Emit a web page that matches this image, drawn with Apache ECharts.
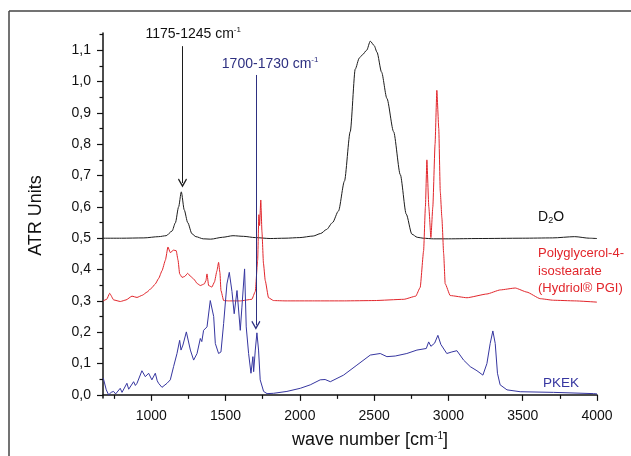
<!DOCTYPE html>
<html>
<head>
<meta charset="utf-8">
<script src="https://cdn.jsdelivr.net/npm/echarts@6/dist/echarts.min.js"></script>
<style>
  html, body { margin: 0; padding: 0; background: #fff; }
  #main { width: 631px; height: 456px; }
</style>
</head>
<body>
<div id="main"></div>
<script>
// D2O spectrum (black)
var d2oWn  = [677, 800, 950, 1050, 1100, 1140, 1162, 1184, 1202, 1222, 1245, 1274, 1300, 1350, 1400, 1480, 1550, 1620, 1700, 1800, 1900, 2000, 2090, 2140, 2180, 2220, 2260, 2300, 2339, 2373, 2400, 2420, 2450, 2474, 2500, 2519, 2550, 2586, 2631, 2676, 2716, 2754, 2790, 2830, 2900, 3000, 3200, 3500, 3700, 3850, 3950, 4000];
var d2oAbs = [0.5, 0.5, 0.501, 0.505, 0.508, 0.523, 0.549, 0.6, 0.648, 0.59, 0.55, 0.514, 0.505, 0.498, 0.497, 0.503, 0.508, 0.506, 0.502, 0.499, 0.5, 0.502, 0.507, 0.515, 0.528, 0.55, 0.587, 0.682, 0.84, 1.04, 1.075, 1.085, 1.1, 1.129, 1.115, 1.094, 1.03, 0.946, 0.84, 0.703, 0.577, 0.513, 0.503, 0.5, 0.498, 0.498, 0.499, 0.5, 0.501, 0.505, 0.5, 0.499];

// Polyglycerol-4-isostearate (red)
var pgiWn  = [677, 700, 720, 747, 792, 830, 870, 904, 940, 971, 1000, 1027, 1050, 1072, 1095, 1112, 1128, 1150, 1168, 1180, 1191, 1207, 1225, 1245, 1265, 1285, 1310, 1330, 1357, 1368, 1375, 1386, 1408, 1425, 1442, 1453, 1462, 1469, 1487, 1520, 1600, 1677, 1700, 1716, 1724, 1729, 1737, 1745, 1755, 1767, 1789, 1823, 1900, 2100, 2300, 2500, 2700, 2780, 2810, 2833, 2845, 2855, 2868, 2882, 2895, 2910, 2922, 2935, 2945, 2956, 2968, 2978, 3012, 3125, 3259, 3349, 3450, 3528, 3618, 3707, 3850, 3999];
var pgiAbs = [0.3, 0.305, 0.324, 0.303, 0.298, 0.303, 0.315, 0.311, 0.318, 0.328, 0.34, 0.354, 0.372, 0.396, 0.43, 0.472, 0.454, 0.462, 0.46, 0.43, 0.386, 0.375, 0.378, 0.388, 0.378, 0.37, 0.355, 0.349, 0.354, 0.365, 0.386, 0.349, 0.344, 0.36, 0.396, 0.423, 0.39, 0.333, 0.301, 0.3, 0.3, 0.305, 0.33, 0.43, 0.575, 0.54, 0.622, 0.52, 0.42, 0.365, 0.31, 0.301, 0.3, 0.3, 0.3, 0.301, 0.305, 0.315, 0.343, 0.46, 0.6, 0.75, 0.6, 0.502, 0.6, 0.8, 0.972, 0.85, 0.65, 0.565, 0.45, 0.355, 0.317, 0.31, 0.322, 0.335, 0.341, 0.328, 0.307, 0.302, 0.3, 0.296];

// PKEK (blue)
var pkekWn  = [677, 690, 697, 713, 730, 746, 760, 769, 791, 803, 814, 836, 848, 859, 881, 893, 904, 937, 960, 982, 1004, 1027, 1040, 1049, 1072, 1106, 1128, 1150, 1173, 1191, 1200, 1213, 1236, 1263, 1285, 1308, 1330, 1340, 1352, 1375, 1397, 1408, 1420, 1431, 1453, 1469, 1487, 1509, 1525, 1543, 1558, 1577, 1584, 1599, 1610, 1628, 1639, 1655, 1671, 1684, 1689, 1700, 1711, 1722, 1733, 1756, 1779, 1823, 1913, 2003, 2070, 2137, 2170, 2205, 2294, 2384, 2474, 2541, 2586, 2642, 2720, 2788, 2851, 2867, 2882, 2907, 2929, 2949, 2989, 3023, 3057, 3102, 3147, 3192, 3232, 3259, 3281, 3299, 3315, 3330, 3348, 3394, 3483, 3707, 3976, 4000];
var pkekAbs = [0.053, 0.05, 0.016, 0.0, 0.008, 0.011, 0.003, 0.0, 0.021, 0.008, 0.011, 0.037, 0.018, 0.021, 0.042, 0.03, 0.037, 0.077, 0.058, 0.069, 0.048, 0.069, 0.045, 0.037, 0.024, 0.037, 0.048, 0.09, 0.132, 0.174, 0.143, 0.159, 0.201, 0.143, 0.111, 0.132, 0.18, 0.17, 0.206, 0.217, 0.301, 0.306, 0.25, 0.164, 0.132, 0.137, 0.228, 0.354, 0.391, 0.33, 0.259, 0.333, 0.338, 0.206, 0.28, 0.402, 0.217, 0.132, 0.069, 0.122, 0.074, 0.143, 0.198, 0.143, 0.048, 0.011, 0.004, 0.005, 0.011, 0.021, 0.032, 0.048, 0.049, 0.042, 0.063, 0.095, 0.127, 0.132, 0.122, 0.124, 0.132, 0.143, 0.148, 0.169, 0.155, 0.165, 0.19, 0.161, 0.132, 0.137, 0.141, 0.111, 0.09, 0.077, 0.063, 0.1, 0.164, 0.204, 0.164, 0.069, 0.032, 0.016, 0.01, 0.008, 0.004, 0.003];

// axis ticks
var xMajor = [1000, 1500, 2000, 2500, 3000, 3500, 4000];
var xMinor = [750, 1250, 1750, 2250, 2750, 3250, 3750];
var yMajor = [0, 0.1, 0.2, 0.3, 0.4, 0.5, 0.6, 0.7, 0.8, 0.9, 1.0, 1.1];
var yMinor = [0.05, 0.15, 0.25, 0.35, 0.45, 0.55, 0.65, 0.75, 0.85, 0.95, 1.05, 1.15];

// annotation arrows [wavenumber, from, to]
var arrow1 = [1210, 1.113, 0.676];
var arrow2 = [1704, 1.021, 0.222];

var BLACK = '#1c1c1c', RED = '#e2252b', BLUE = '#3636a0', NAVY = '#2e3081';
var FONT = 'Liberation Sans, Arial, sans-serif';

function zip(a, b) {
  var out = [];
  for (var i = 0; i < a.length; i++) out.push([a[i], b[i]]);
  return out;
}
function comma(v) { return v.toFixed(1).replace('.', ','); }

var chevron = 'path://M5,0 L10,9 L9,10 L5,3 L1,10 L0,9 Z';

var myChart = echarts.init(document.getElementById('main'));
var gridBox = { left: 103, right: 34, top: 33, bottom: 58 };

var option = {
  backgroundColor: '#fff',
  animation: false,
  grid: [
    Object.assign({ containLabel: false }, gridBox),
    Object.assign({ containLabel: false }, gridBox)
  ],
  xAxis: [{
    type: 'value', gridIndex: 0, min: 675, max: 4000,
    name: 'wave number [cm{s|-1}]',
    nameLocation: 'middle', nameGap: 33,
    nameTextStyle: {
      color: '#111', fontFamily: FONT, fontSize: 18, padding: [0, 0, 0, 40],
      rich: { s: { fontSize: 10, verticalAlign: 'top', fontFamily: FONT, color: '#111' } }
    },
    axisLine: { lineStyle: { color: '#111', width: 1.5 } },
    axisTick: { length: 6, lineStyle: { color: '#111', width: 1.2 }, customValues: xMajor },
    axisLabel: { customValues: xMajor, color: '#111', fontSize: 14, fontFamily: FONT, margin: 11,
      formatter: function (v) { return String(v); } },
    splitLine: { show: false }
  }, {
    type: 'value', gridIndex: 1, min: 675, max: 4000,
    axisLine: { show: false },
    axisTick: { length: 4, lineStyle: { color: '#111', width: 1.2 }, customValues: xMinor },
    axisLabel: { show: false },
    splitLine: { show: false }
  }],
  yAxis: [{
    type: 'value', gridIndex: 0, min: -0.01, max: 1.155,
    name: 'ATR Units',
    nameLocation: 'middle', nameGap: 58,
    nameTextStyle: { color: '#111', fontFamily: FONT, fontSize: 18 },
    axisLine: { show: true, lineStyle: { color: '#111', width: 1.5 } },
    axisTick: { show: true, length: 6, lineStyle: { color: '#111', width: 1.2 }, customValues: yMajor },
    axisLabel: { customValues: yMajor, color: '#111', fontSize: 14, fontFamily: FONT, margin: 12,
      formatter: function (v) { return comma(v); } },
    splitLine: { show: false }
  }, {
    type: 'value', gridIndex: 1, min: -0.01, max: 1.155,
    axisLine: { show: false },
    axisTick: { show: true, length: 3.5, lineStyle: { color: '#111', width: 1.2 }, customValues: yMinor },
    axisLabel: { show: false },
    splitLine: { show: false }
  }],
  series: [{
    name: 'D2O', type: 'line', xAxisIndex: 0, yAxisIndex: 0,
    showSymbol: false, smooth: 0.25, smoothMonotone: 'x',
    lineStyle: { color: BLACK, width: 1 },
    data: zip(d2oWn, d2oAbs),
    markLine: {
      silent: true, symbol: ['none', chevron], symbolSize: 9,
      lineStyle: { color: BLACK, width: 1, type: 'solid' },
      label: { show: false },
      data: [[{ coord: [arrow1[0], arrow1[1]] }, { coord: [arrow1[0], arrow1[2]] }]]
    }
  }, {
    name: 'PGI', type: 'line', xAxisIndex: 0, yAxisIndex: 0,
    showSymbol: false, smooth: 0.15, smoothMonotone: 'x',
    lineStyle: { color: RED, width: 1 },
    data: zip(pgiWn, pgiAbs)
  }, {
    name: 'PKEK', type: 'line', xAxisIndex: 0, yAxisIndex: 0,
    showSymbol: false, smooth: false,
    lineStyle: { color: BLUE, width: 1 },
    data: zip(pkekWn, pkekAbs),
    markLine: {
      silent: true, symbol: ['none', chevron], symbolSize: 9,
      lineStyle: { color: NAVY, width: 1, type: 'solid' },
      label: { show: false },
      data: [[{ coord: [arrow2[0], arrow2[1]] }, { coord: [arrow2[0], arrow2[2]] }]]
    }
  }]
};
myChart.setOption(option);

// text labels anchored in data space
var labels = [
  { x: 1282, y: 1.152, align: 'center', color: '#111', size: 14, text: '{t|1175-1245 cm}{s|-1}' },
  { x: 1800, y: 1.056, align: 'center', color: NAVY, size: 14, text: '{t|1700-1730 cm}{s|-1}' },
  { x: 3603, y: 0.567, align: 'left', color: '#111', size: 14, text: '{t|D}{b|2}{t|O}' },
  { x: 3603, y: 0.452, align: 'left', color: RED, size: 13, text: '{t|Polyglycerol-4-}' },
  { x: 3603, y: 0.395, align: 'left', color: RED, size: 13, text: '{t|isostearate}' },
  { x: 3603, y: 0.340, align: 'left', color: RED, size: 13, text: '{t|(Hydriol\u00ae PGI)}' },
  { x: 3637, y: 0.036, align: 'left', color: BLUE, size: 13.5, text: '{t|PKEK}' }
];

var graphics = [
  { type: 'line', silent: true, shape: { x1: 9, y1: 11, x2: 631, y2: 11 }, style: { stroke: '#444', lineWidth: 1.5 } },
  { type: 'line', silent: true, shape: { x1: 9, y1: 11, x2: 9, y2: 456 }, style: { stroke: '#444', lineWidth: 1.5 } }
];
labels.forEach(function (l) {
  var p = myChart.convertToPixel({ gridIndex: 0 }, [l.x, l.y]);
  graphics.push({
    type: 'text', silent: true, x: p[0], y: p[1],
    style: {
      text: l.text, align: l.align, verticalAlign: 'middle',
      fill: l.color, font: l.size + 'px ' + FONT,
      rich: {
        t: { fontSize: l.size, fontFamily: FONT, fill: l.color, color: l.color, lineHeight: 16 },
        s: { fontSize: 8, fontFamily: FONT, fill: l.color, color: l.color, verticalAlign: 'top' },
        b: { fontSize: 9, fontFamily: FONT, fill: l.color, color: l.color, verticalAlign: 'bottom' }
      }
    }
  });
});
myChart.setOption({ graphic: graphics });
</script>
</body>
</html>
